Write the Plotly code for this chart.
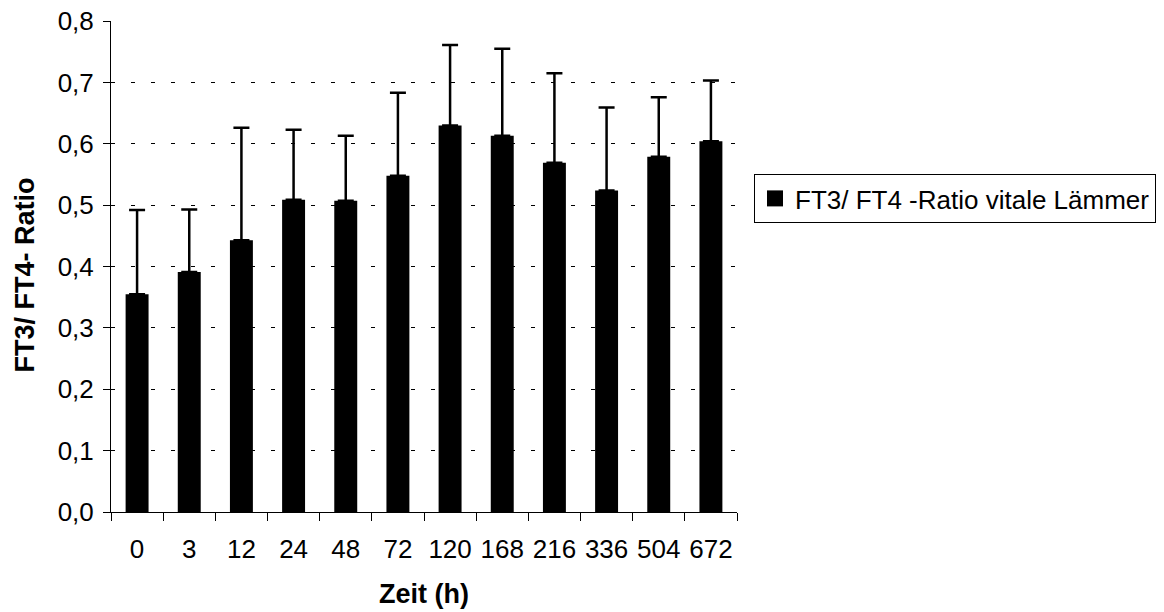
import plotly.graph_objects as go

categories = ["0", "3", "12", "24", "48", "72", "120", "168", "216", "336", "504", "672"]
ratio_mean = [0.355, 0.391, 0.443, 0.509, 0.507, 0.548, 0.630, 0.613, 0.569, 0.524, 0.579, 0.604]
ratio_sd = [0.137, 0.102, 0.183, 0.114, 0.106, 0.135, 0.131, 0.142, 0.146, 0.135, 0.097, 0.099]
series_name = "FT3/ FT4 -Ratio vitale Lämmer"
y_ticks = [0.0, 0.1, 0.2, 0.3, 0.4, 0.5, 0.6, 0.7, 0.8]

FONT = "Arial, 'Liberation Sans', sans-serif"

W, H = 1164, 612
PL, PR, PT, PB = 111, 737, 21, 512  # plot area in pixels

fig = go.Figure()
fig.add_trace(go.Bar(
    x=categories, y=ratio_mean,
    marker=dict(color="#000000", line=dict(color="#000000", width=0)),
    error_y=dict(type="data", array=ratio_sd, arrayminus=[0] * len(ratio_sd),
                 symmetric=False, color="#000000", thickness=2.5, width=8),
    showlegend=False, name=series_name,
))
# legend entry (square marker)
fig.add_trace(go.Scatter(
    x=[None], y=[None], mode="markers", name=series_name,
    marker=dict(symbol="square", color="#000000", size=18),
    showlegend=True,
))

pw, ph = PR - PL, PB - PT

fig.update_layout(
    width=W, height=H,
    paper_bgcolor="white", plot_bgcolor="white",
    margin=dict(l=PL, r=W - PR, t=PT, b=H - PB, autoexpand=False),
    separators=",.",
    bargap=0.56,
    font=dict(family=FONT, size=26, color="#000000"),
    showlegend=True,
    legend=dict(
        xref="container", yref="container",
        x=754 / W, y=1 - 174 / H, xanchor="left", yanchor="top",
        bordercolor="#000000", borderwidth=1, bgcolor="white",
        font=dict(family=FONT, size=26, color="#000000"),
        itemsizing="trace", tracegroupgap=0,
    ),
    xaxis=dict(
        type="category", showgrid=False, zeroline=False,
        showline=True, linecolor="#000000", linewidth=1,
        ticks="outside", ticklen=8, tickcolor="#000000", tickwidth=1,
        tickson="boundaries", ticklabelstandoff=14, tickangle=0,
        tickfont=dict(family=FONT, size=26, color="#000000"),
        automargin=False,
    ),
    yaxis=dict(
        range=[0, 0.8001], tickvals=y_ticks, tickformat=".1f",
        showgrid=True, gridcolor="#000000", gridwidth=1, griddash="4px,16px",
        zeroline=False, showline=True, linecolor="#000000", linewidth=1,
        ticks="outside", ticklen=7, tickcolor="#000000", tickwidth=1,
        ticklabelstandoff=4, ticklabeloverflow="allow",
        tickfont=dict(family=FONT, size=26, color="#000000"),
        automargin=False,
    ),
    annotations=[
        dict(text="<b>FT3/ FT4- Ratio</b>", xref="paper", yref="paper",
             x=(24.5 - PL) / pw, y=(PB - 275) / ph, xanchor="center", yanchor="middle",
             textangle=-90, showarrow=False,
             font=dict(family=FONT, size=27, color="#000000")),
        dict(text="<b>Zeit (h)</b>", xref="paper", yref="paper",
             x=(424 - PL) / pw, y=(PB - 593.5) / ph, xanchor="center", yanchor="middle",
             showarrow=False,
             font=dict(family=FONT, size=27, color="#000000")),
    ],
)

fig.write_html(
    "out.html",
    config={"displayModeBar": False},
    post_script="document.body.style.margin='0';document.body.style.overflow='hidden';",
)
